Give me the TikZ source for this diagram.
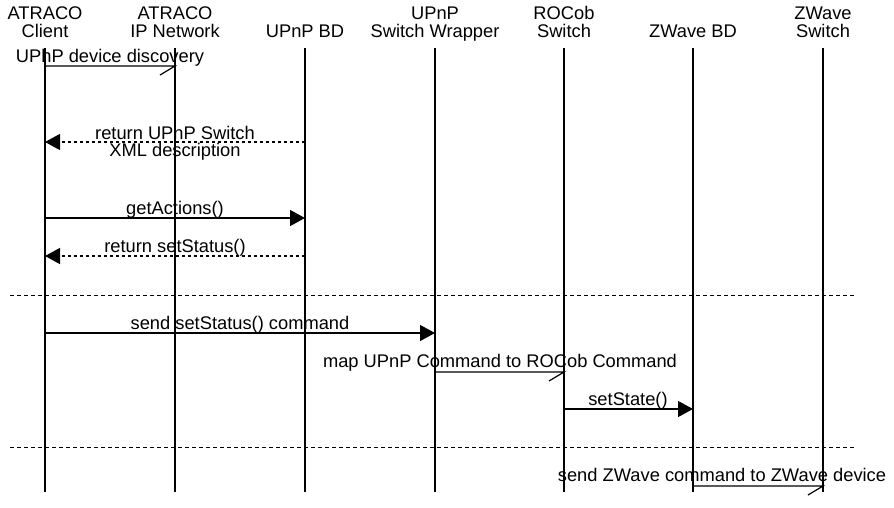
\documentclass[tikz,border=0pt]{standalone}
\usepackage{fontspec}
\setmainfont{Liberation Sans}
\usetikzlibrary{arrows.meta}
\begin{document}
\begin{tikzpicture}[x=1pt,y=-1pt,
  every node/.style={font=\fontsize{18.3}{18}\selectfont, inner sep=0pt, outer sep=0pt},
  head/.style={anchor=base, align=center},
  lbl/.style={anchor=base, align=center, font=\fontsize{18.3}{17}\selectfont},
  life/.style={line width=1.2pt},
  msg/.style={line width=1.2pt, -{Triangle[length=15pt,width=16pt]}},
  ret/.style={line width=1.2pt, dash pattern=on 3.5pt off 2.5pt, -{Triangle[length=15pt,width=16pt]}},
  async/.style={line width=1.2pt},
  sep/.style={line width=1pt, dash pattern=on 4pt off 3pt}]
\useasboundingbox (0,0) rectangle (894,507);
% headers (base = last line)
\node[head] (h1) at (45,37) {ATRACO\\Client};
\node[head] (h2) at (175,37) {ATRACO\\IP Network};
\node[head] (h3) at (305,37) {UPnP BD};
\node[head] (h4) at (435,37) {UPnP\\Switch Wrapper};
\node[head] (h5) at (564,37) {ROCob\\Switch};
\node[head] (h6) at (693,37) {ZWave BD};
\node[head] (h7) at (823,37) {ZWave\\Switch};
% lifelines
\foreach \i/\x in {1/45,2/175,3/305,4/435,5/564,6/693,7/823}{
  \coordinate (t\i) at (\x,48);
  \coordinate (b\i) at (\x,492);
  \draw[life] (t\i) -- (b\i);
}
% message 1
\coordinate (m1a) at (45,66); \coordinate (m1b) at (175,66);
\draw[async] (m1a) -- (m1b) -- ++(-15,9);
\node[lbl] (l1) at (110,62) {UPhP device discovery};
% message 2
\coordinate (m2a) at (305,142); \coordinate (m2b) at (45,142);
\draw[ret] (m2a) -- (m2b);
\node[lbl] (l2) at (175,156) {return UPnP Switch\\XML description};
% message 3
\coordinate (m3a) at (45,218); \coordinate (m3b) at (305,218);
\draw[msg] (m3a) -- (m3b);
\node[lbl] (l3) at (175,214) {getActions()};
% message 4
\coordinate (m4a) at (305,256); \coordinate (m4b) at (45,256);
\draw[ret] (m4a) -- (m4b);
\node[lbl] (l4) at (175,252) {return setStatus()};
% separator
\coordinate (s1a) at (10,295); \coordinate (s1b) at (856,295);
\draw[sep] (s1a) -- (s1b);
% message 6
\coordinate (m6a) at (45,333); \coordinate (m6b) at (435,333);
\draw[msg] (m6a) -- (m6b);
\node[lbl] (l6) at (240,329) {send setStatus() command};
% message 7
\coordinate (m7a) at (435,372); \coordinate (m7b) at (564,372);
\draw[async] (m7a) -- (m7b) -- ++(-15,9);
\node[lbl] (l7) at (500,367) {map UPnP Command to ROCob Command};
% message 8
\coordinate (m8a) at (564,409); \coordinate (m8b) at (693,409);
\draw[msg] (m8a) -- (m8b);
\node[lbl] (l8) at (628,405) {setState()};
% separator 2
\coordinate (s2a) at (10,447); \coordinate (s2b) at (856,447);
\draw[sep] (s2a) -- (s2b);
% message 10
\coordinate (m10a) at (693,486); \coordinate (m10b) at (823,486);
\draw[async] (m10a) -- (m10b) -- ++(-15,9);
\node[lbl] (l10) at (722,481) {send ZWave command to ZWave device};
\end{tikzpicture}
\end{document}
